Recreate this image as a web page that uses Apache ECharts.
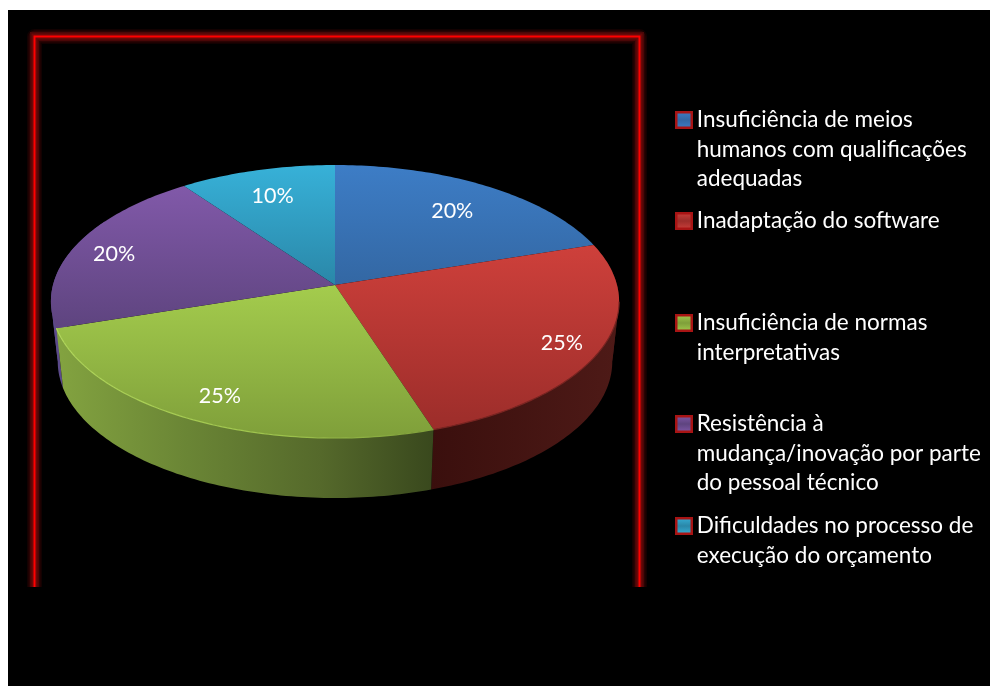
<!DOCTYPE html>
<html><head><meta charset="utf-8">
<style>html,body{margin:0;padding:0;background:#fff}#c{width:990px;height:686px}</style>
<script src="https://cdn.jsdelivr.net/npm/echarts@6/dist/echarts.min.js"></script>
</head><body><div id="c"></div>
<script>
const categories = [
  'Insuficiência de meios humanos com qualificações adequadas',
  'Inadaptação do software',
  'Insuficiência de normas interpretativas',
  'Resistência à mudança/inovação por parte do pessoal técnico',
  'Dificuldades no processo de execução do orçamento'
];
const legendLines = [
  ['Insuficiência de meios','humanos com qualificações','adequadas'],
  ['Inadaptação do software'],
  ['Insuficiência de normas','interpretativas'],
  ['Resistência à','mudança/inovação por parte','do pessoal técnico'],
  ['Dificuldades no processo de','execução do orçamento']
];
const values = [20, 25, 25, 20, 10];

// styling
const FONT = 'Lato';
const topColors = [['#3D7DC6','#3367A3'],['#CE403B','#9C2D2A'],['#A4CC4D','#7F9F3A'],['#8159A9','#5E447F'],['#37B1D8','#2A87A8']];
const wallStops = [null,
  [[0,'#3A0F0D'],[1,'#4E1A17']],
  [[0,'#83A340'],[0.35,'#6A8535'],[0.7,'#55692B'],[1,'#39481D']],
  [[0,'#5B4A8A'],[1,'#5B4A8A']], null];
const labelRadius = [0.76, 0.86, 0.82, 0.85, 0.78];
const legendY = [120, 221, 323, 424, 526];
const LH = 29.5;
const CX = 335, CY = 285, RX = 282, RY = 134.5, K = 0.121, DEPTH = 60, BOTTOM_SCALE = 0.976;
const FOLDS = [97, 263]; // where the side wall turns away from the viewer

const total = values.reduce((a, b) => a + b, 0);
const startAngles = values.map((v, i) => values.slice(0, i).reduce((a, b) => a + b, 0) / total * 360);

function project(deg, f) {
  const t = deg * Math.PI / 180, u = Math.sin(t) * f, v = Math.cos(t) * f, w = 1 + K * v;
  return [CX + RX * u / w, CY - RY * v / w];
}
function arc(a, b) {
  const out = [], n = Math.max(2, Math.ceil(Math.abs(b - a)));
  for (let i = 0; i <= n; i++) out.push(project(a + (b - a) * i / n, 1));
  return out;
}
const lower = p => [CX + (p[0] - CX) * BOTTOM_SCALE, p[1] + DEPTH];
function grad(x2, y2, stops) {
  return { type: 'linear', x: 0, y: 0, x2, y2, colorStops: stops.map(s => ({ offset: s[0], color: s[1] })) };
}

function renderSlice(i) {
  return function (params, api) {
    const v = api.value(0), a = startAngles[i], b = a + v / total * 360;
    const kids = [];
    if (wallStops[i]) {
      const end = Math.min(b, 300);
      const cuts = [a].concat(FOLDS.filter(f => f > a && f < end), [end]);
      for (let c = 0; c < cuts.length - 1; c++) {
        const top = arc(cuts[c], cuts[c + 1]);
        kids.push({ type: 'polygon', z2: i === 3 ? 1 : 2, shape: { points: top.concat(top.map(lower).reverse()) },
          style: { fill: grad(1, 0, wallStops[i]) } });
      }
    }
    kids.push({ type: 'polygon', z2: 10, shape: { points: [[CX, CY]].concat(arc(a, b)) },
      style: { fill: grad(0, 1, [[0, topColors[i][0]], [1, topColors[i][1]]]) } });
    if (i === 2) kids.push({ type: 'polyline', z2: 11, shape: { points: arc(a, b) },
      style: { fill: null, lineWidth: 1.2, stroke: grad(1, 0, [[0, '#B2D85C'], [0.6, '#9DC24C'], [1, '#7F9F3A']]) } });
    if (i === 1) kids.push({ type: 'polyline', z2: 11, shape: { points: arc(a + 25, b) },
      style: { fill: null, lineWidth: 1.2, stroke: '#7A2522' } });
    const c = project((a + b) / 2, labelRadius[i]);
    kids.push({ type: 'text', z2: 20, x: c[0], y: c[1] + 3, style: { text: v + '%', fill: '#fff', font: '21.5px ' + FONT, align: 'center', verticalAlign: 'middle' } });
    return { type: 'group', children: kids };
  };
}

const series = categories.map((name, i) => ({
  type: 'custom', name, coordinateSystem: 'none', animation: false, silent: true, z: 2,
  itemStyle: { color: topColors[i][0] },
  data: [[values[i]]], renderItem: renderSlice(i)
}));

const legend = categories.map((name, i) => {
  const n = legendLines[i].length;
  return {
    data: [name], orient: 'vertical', left: 675, top: legendY[i] - (2 * n - 1) * LH / 2,
    padding: 0, itemWidth: 15.5, itemHeight: 15.5, itemGap: 0, selectedMode: false, icon: 'rect',
    itemStyle: { color: grad(0, 1, [[0, topColors[i][0]], [0.5, topColors[i][1]], [1, topColors[i][0]]]), borderColor: '#A81414', borderWidth: 2.5 },
    textStyle: { color: '#fff', fontFamily: FONT, fontSize: 22.5, lineHeight: LH },
    formatter: () => '\n'.repeat(n - 1) + legendLines[i].join('\n')
  };
});

const framePts = [[34.5, 587], [34.5, 36.5], [639.5, 36.5], [639.5, 587]];
const frame = [[15, '#120101'], [12, '#2A0303'], [9, '#4A0707'], [6, '#6A0909'], [2, '#FF0000']].map((s, i) => ({
  type: 'polyline', z: -5, shape: { points: framePts },
  style: { fill: null, stroke: s[1], lineWidth: s[0], lineJoin: i < 2 ? 'round' : 'miter', lineCap: 'butt' }
}));

const chart = echarts.init(document.getElementById('c'), null, { renderer: 'canvas' });
chart.setOption({
  animation: false,
  backgroundColor: '#fff',
  graphic: { elements: [
    { type: 'rect', z: -10, shape: { x: 8, y: 10, width: 982, height: 676 }, style: { fill: '#000' } }
  ].concat(frame) },
  legend, series
});
</script></body></html>
